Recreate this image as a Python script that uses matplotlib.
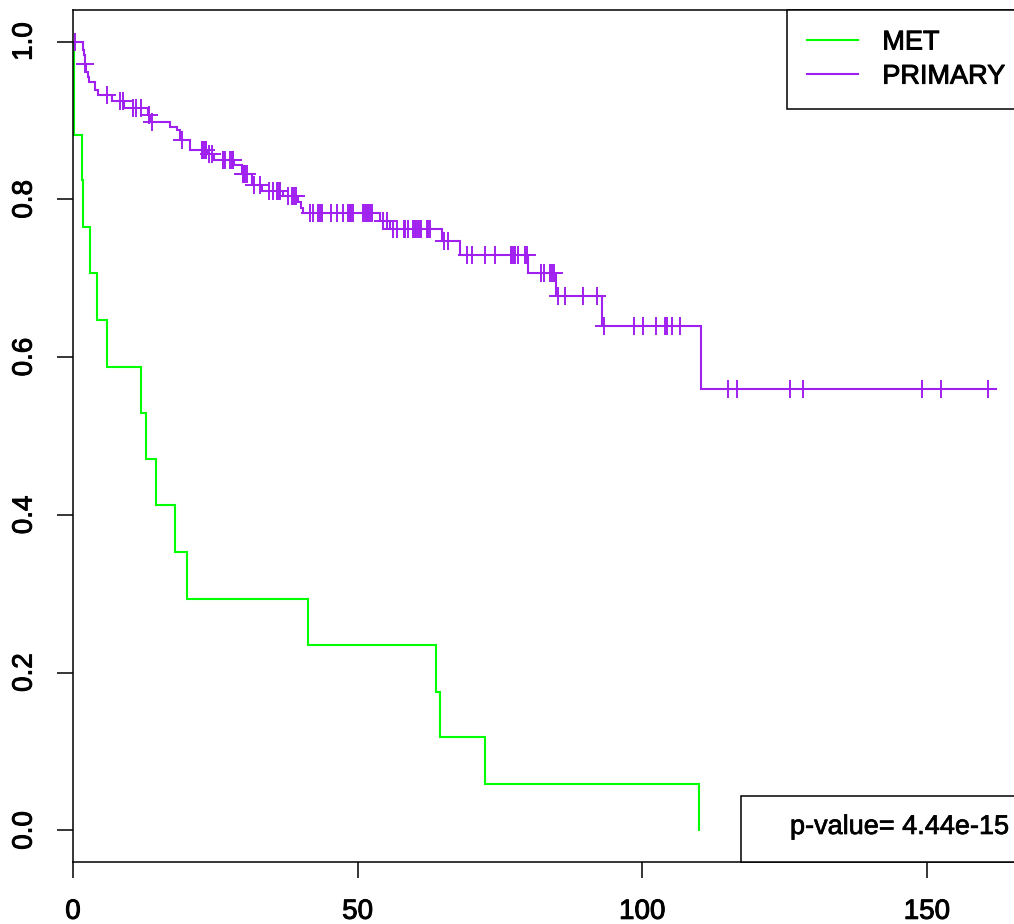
import numpy as np
import matplotlib
matplotlib.use("Agg")
import matplotlib.pyplot as plt
import matplotlib.patheffects as pe
from matplotlib.lines import Line2D
from matplotlib.patches import Rectangle

plt.rcParams['font.family'] = ['Liberation Sans', 'DejaVu Sans']

# ---------------- data ----------------
group_names = ["MET", "PRIMARY"]
group_colors = ["#00FF00", "#A020F0"]

met_times = [0.0, 0.1, 1.5, 1.75, 3.0, 4.2, 6.0, 11.9, 12.8, 14.5, 18.0, 20.1,
             41.3, 63.8, 64.5, 72.4, 110.0]
met_surv = [1.0, 0.882, 0.824, 0.765, 0.706, 0.647, 0.588, 0.529, 0.471, 0.412,
            0.353, 0.294, 0.235, 0.176, 0.118, 0.059, 0.0]
met_end = 110.0

prim_times = [0.0, 1.7, 1.9, 2.05, 2.1, 2.2, 2.6, 2.8, 3.8, 4.4, 6.9, 8.9, 13.2,
              13.5, 17.0, 18.2, 18.8, 20.6, 23.5, 24.8, 28.2, 29.6, 31.5, 33.2,
              36.8, 39.5, 40.0, 40.4, 53.9, 55.6, 64.8, 68.0, 80.0, 84.8, 92.9,
              110.3]
prim_surv = [1.0, 0.989, 0.983, 0.978, 0.972, 0.961, 0.955, 0.949, 0.938, 0.932,
             0.925, 0.916, 0.907, 0.898, 0.892, 0.888, 0.875, 0.862, 0.858, 0.850,
             0.844, 0.832, 0.818, 0.811, 0.804, 0.797, 0.789, 0.783, 0.772, 0.762,
             0.747, 0.730, 0.707, 0.677, 0.639, 0.559]
prim_end = 162.2
prim_censor = [0.3, 2.15, 5.9, 8.2, 8.85, 10.5, 11.1, 12.0, 13.3, 13.9, 19.1,
               22.7, 22.9, 23.1, 23.3, 23.9, 24.5, 26.3, 26.7, 27.6, 27.9, 28.1,
               29.9, 30.1, 30.3, 30.5, 31.8, 32.8, 34.5, 35.2, 35.9, 36.2, 36.4,
               37.8, 38.4, 38.8, 39.2, 41.6, 42.2, 43.0, 43.3, 43.7, 45.4, 46.3,
               47.5, 48.3, 48.6, 48.9, 49.2, 51.0, 51.3, 51.6, 51.9, 52.2, 52.6,
               54.5, 55.1, 56.2, 56.9, 58.1, 58.4, 58.8, 59.7, 60.0, 60.3, 60.6,
               60.9, 61.2, 62.1, 62.4, 62.7, 65.2, 65.9, 69.2, 70.0, 72.4, 74.1,
               76.9, 77.1, 77.4, 77.6, 78.2, 79.4, 79.7, 82.2, 82.8, 83.8, 84.2,
               84.5, 85.2, 86.4, 89.5, 92.0, 93.3, 98.5, 100.2, 102.4, 104.0,
               104.3, 105.3, 106.7, 115.1, 116.7, 125.9, 128.2, 149.1, 152.4,
               160.7]

x_ticks = [0, 50, 100, 150]
y_ticks = [0.0, 0.2, 0.4, 0.6, 0.8, 1.0]
y_tick_labels = ["0.0", "0.2", "0.4", "0.6", "0.8", "1.0"]
pvalue_text = "p-value= 4.44e-15"

# ---------------- figure ----------------
W, H = 1014, 924
fig = plt.figure(figsize=(W / 100, H / 100), dpi=100)
ax_l, ax_r, ax_t, ax_b = 73, 1016, 10, 862
ax = fig.add_axes([ax_l / W, (H - ax_b) / H, (ax_r - ax_l) / W, (ax_b - ax_t) / H])

lw = 1.5
thick = [pe.withStroke(linewidth=0.7, foreground="black")]


def km_step(ax, times, surv, end, color):
    t = list(times) + [end]
    s = list(surv) + [surv[-1]]
    ax.step(t, s, where="post", color=color, lw=lw, solid_joinstyle="miter")


km_step(ax, met_times, met_surv, met_end, group_colors[0])
km_step(ax, prim_times, prim_surv, prim_end, group_colors[1])

# censor marks on PRIMARY
idx = np.searchsorted(np.array(prim_times), np.array(prim_censor), side="right") - 1
cens_y = np.array(prim_surv)[idx]
ax.plot(prim_censor, cens_y, linestyle="none", marker="+", markersize=13,
        markeredgewidth=1.4, color=group_colors[1])

ax.set_xlim(0, (ax_r - ax_l) / 5.693)
ax.set_ylim(-0.04, 1.04)
ax.set_xticks(x_ticks)
ax.set_xticklabels([str(v) for v in x_ticks])
ax.set_yticks(y_ticks)
ax.set_yticklabels(y_tick_labels, rotation=90, va="center")

ax.tick_params(axis="both", direction="out", length=11.5, width=1.1,
               labelsize=20, color="black")
ax.tick_params(axis="x", pad=15)
ax.tick_params(axis="y", pad=14)
for lab in ax.get_xticklabels() + ax.get_yticklabels():
    lab.set_path_effects(thick)
for sp in ax.spines.values():
    sp.set_linewidth(1.1)
ax.spines["right"].set_visible(False)

# legend
handles = [Line2D([], [], color=c, lw=lw) for c in group_colors]
leg = ax.legend(handles, group_names, loc="upper left",
                bbox_to_anchor=(787 / W, 1 - 10 / H), bbox_transform=fig.transFigure,
                borderaxespad=0, fontsize=19.5, frameon=True, fancybox=False,
                edgecolor="black", framealpha=1, borderpad=0.72,
                handlelength=1.9, handletextpad=0.9, labelspacing=0.3)
leg.get_frame().set_linewidth(1.1)
for txt in leg.get_texts():
    txt.set_path_effects(thick)

# p-value box
box_left = (741 - ax_l) / (ax_r - ax_l)
box_top = (ax_b - 796) / (ax_b - ax_t)
ax.add_patch(Rectangle((box_left, 0), 0.5, box_top, transform=ax.transAxes,
                       facecolor="white", edgecolor="black", lw=1.1,
                       clip_on=False, zorder=5))
ax.text((790 - ax_l) / (ax_r - ax_l), (ax_b - 834) / (ax_b - ax_t), pvalue_text,
        transform=ax.transAxes, fontsize=19.5, ha="left", va="baseline", zorder=6,
        path_effects=[pe.withStroke(linewidth=0.5, foreground="black")])

fig.savefig("out.png", dpi=100)
